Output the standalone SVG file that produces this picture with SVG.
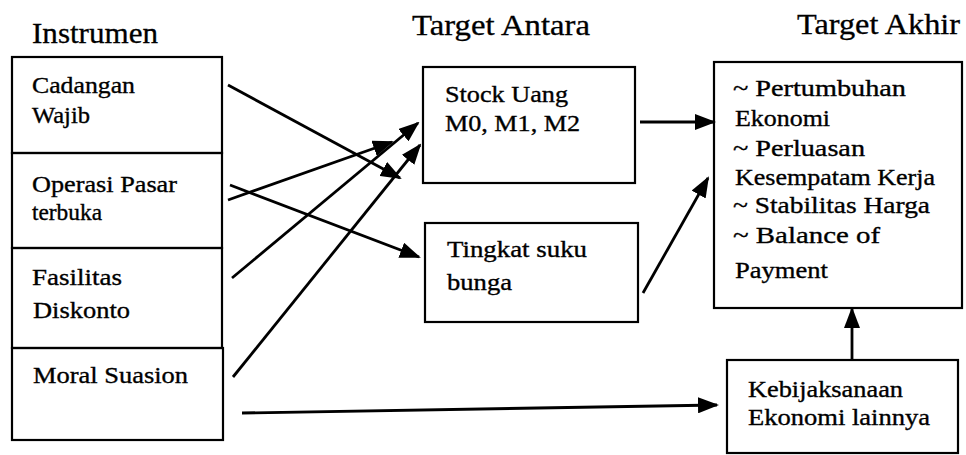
<svg xmlns="http://www.w3.org/2000/svg" width="966" height="455" viewBox="0 0 966 455">
<style>
.bg{fill:#ffffff}
.box{fill:none;stroke:#000;stroke-width:2.2}
.t{font-family:"Liberation Serif","Times New Roman",serif;font-size:23.5px;fill:#000;stroke:#000;stroke-width:0.35}
.h{font-family:"Liberation Serif","Times New Roman",serif;font-size:29px;fill:#000;stroke:#000;stroke-width:0.3}
.c{fill:none;stroke:#000;stroke-width:2.8;marker-end:url(#ah)}
</style>
<defs>
<marker id="ah" markerUnits="userSpaceOnUse" markerWidth="21" markerHeight="16" refX="19" refY="8" orient="auto">
<path d="M0,0 L21,8 L0,16 z" fill="#000"/>
</marker>
</defs>
<rect class="bg" x="0" y="0" width="966" height="455"/>

<g id="titles">
<text class="h" x="32" y="43" textLength="126" lengthAdjust="spacingAndGlyphs">Instrumen</text>
<text class="h" x="412" y="35" textLength="178" lengthAdjust="spacingAndGlyphs">Target Antara</text>
<text class="h" x="797" y="34" textLength="163" lengthAdjust="spacingAndGlyphs">Target Akhir</text>
</g>

<g id="cadangan">
<rect class="box" x="12" y="57" width="210" height="96"/>
<text class="t" x="32" y="93" textLength="103" lengthAdjust="spacingAndGlyphs">Cadangan</text>
<text class="t" x="32" y="123" textLength="58" lengthAdjust="spacingAndGlyphs">Wajib</text>
</g>
<g id="operasi">
<rect class="box" x="12" y="153" width="210" height="95"/>
<text class="t" x="32" y="192" textLength="145" lengthAdjust="spacingAndGlyphs">Operasi Pasar</text>
<text class="t" x="32" y="220" textLength="70" lengthAdjust="spacingAndGlyphs">terbuka</text>
</g>
<g id="fasilitas">
<rect class="box" x="12" y="248" width="210" height="100"/>
<text class="t" x="32" y="285" textLength="90" lengthAdjust="spacingAndGlyphs">Fasilitas</text>
<text class="t" x="33" y="318" textLength="97" lengthAdjust="spacingAndGlyphs">Diskonto</text>
</g>
<g id="moral">
<rect class="box" x="12" y="348" width="211" height="92"/>
<text class="t" x="33" y="383" textLength="155" lengthAdjust="spacingAndGlyphs">Moral Suasion</text>
</g>

<g id="stock">
<rect class="box" x="423" y="67" width="212" height="116"/>
<text class="t" x="445" y="102" textLength="123" lengthAdjust="spacingAndGlyphs">Stock Uang</text>
<text class="t" x="445" y="131" textLength="135" lengthAdjust="spacingAndGlyphs">M0, M1, M2</text>
</g>
<g id="tingkat">
<rect class="box" x="425" y="223" width="213" height="99"/>
<text class="t" x="447" y="257" textLength="140" lengthAdjust="spacingAndGlyphs">Tingkat suku</text>
<text class="t" x="447" y="290" textLength="65" lengthAdjust="spacingAndGlyphs">bunga</text>
</g>
<g id="akhir">
<rect class="box" x="714" y="62" width="248" height="246"/>
<text class="t" x="733" y="96" textLength="173" lengthAdjust="spacingAndGlyphs">~ Pertumbuhan</text>
<text class="t" x="735" y="126" textLength="95" lengthAdjust="spacingAndGlyphs">Ekonomi</text>
<text class="t" x="733" y="156" textLength="132" lengthAdjust="spacingAndGlyphs">~ Perluasan</text>
<text class="t" x="735" y="185" textLength="200" lengthAdjust="spacingAndGlyphs">Kesempatam Kerja</text>
<text class="t" x="733" y="213" textLength="197" lengthAdjust="spacingAndGlyphs">~ Stabilitas Harga</text>
<text class="t" x="733" y="243" textLength="147" lengthAdjust="spacingAndGlyphs">~ Balance of</text>
<text class="t" x="735" y="278" textLength="93" lengthAdjust="spacingAndGlyphs">Payment</text>
</g>
<g id="kebijaksanaan">
<rect class="box" x="727" y="360" width="231" height="93"/>
<text class="t" x="748" y="397" textLength="155" lengthAdjust="spacingAndGlyphs">Kebijaksanaan</text>
<text class="t" x="748" y="425" textLength="182" lengthAdjust="spacingAndGlyphs">Ekonomi lainnya</text>
</g>

<g id="connectors">
<line class="c" x1="228" y1="85" x2="400" y2="178"/>
<line class="c" x1="230" y1="185" x2="419" y2="257"/>
<line class="c" x1="228" y1="200" x2="392" y2="142"/>
<line class="c" x1="232" y1="278" x2="418" y2="123"/>
<line class="c" x1="233" y1="377" x2="420" y2="145"/>
<line class="c" x1="242" y1="413" x2="717" y2="405"/>
<line class="c" x1="640" y1="122" x2="714" y2="122"/>
<line class="c" x1="643" y1="293" x2="708" y2="178"/>
<line class="c" x1="852" y1="360" x2="852" y2="309"/>
</g>
</svg>
